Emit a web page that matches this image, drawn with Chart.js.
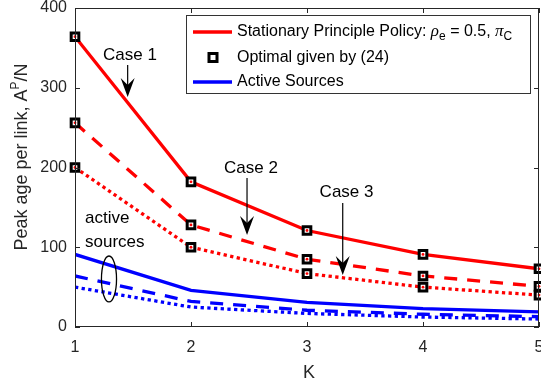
<!DOCTYPE html>
<html>
<head>
<meta charset="utf-8">
<script src="https://cdn.jsdelivr.net/npm/chart.js@4/dist/chart.umd.min.js"></script>
<style>
  html, body { margin: 0; padding: 0; background: #fff; }
  #wrap { position: relative; width: 541px; height: 387px; }
</style>
</head>
<body>
<div id="wrap"><canvas id="c" width="541" height="387"></canvas></div>
<script>
// Number of links K
const K = [1, 2, 3, 4, 5];

// Stationary principle policy, peak age per link (cases 1..3)
const policyCase1 = [364, 182, 121, 91, 73];
const policyCase2 = [256, 128, 85, 64, 51];
const policyCase3 = [200, 100, 67, 50, 40];

// Optimal values given by (24)
const optimalCase1 = [364, 182, 121, 91, 73];
const optimalCase2 = [256, 128, 85, 64, 51];
const optimalCase3 = [200, 100, 67, 50, 40];

// Active sources (cases 1..3)
const activeCase1 = [91, 46, 31, 23, 19];
const activeCase2 = [64, 32, 21, 16, 13];
const activeCase3 = [50, 25, 17, 12.5, 10];

// Axis tick labels
const xTickLabels = ['1', '2', '3', '4', '5'];
const yTickLabels = ['0', '100', '200', '300', '400'];

const RED = '#ff0000';
const BLUE = '#0000ff';
const AXIS = '#262626';
const SANS = '"Liberation Sans", Arial, Helvetica, sans-serif';
const SERIF = '"Liberation Serif", "DejaVu Serif", serif';

const pts = arr => K.map((k, i) => ({ x: k, y: arr[i] }));

const DASH = [13, 10];
const DOT = [3.3, 3.4];

function lineSet(label, arr, color, dash) {
  return {
    label, data: pts(arr), borderColor: color, backgroundColor: color,
    borderWidth: 3.3, borderDash: dash, borderCapStyle: 'butt',
    pointRadius: 0, tension: 0, order: 3
  };
}
function markerSet(label, arr) {
  return {
    label, data: pts(arr), showLine: false, pointStyle: 'rect',
    pointRadius: 5.4, pointBorderWidth: 3, pointBorderColor: '#000',
    pointBackgroundColor: '#fff', clip: false, order: 1
  };
}
function dotSet(arr) {
  return {
    label: '', data: pts(arr), showLine: false, pointStyle: 'circle',
    pointRadius: 1.4, pointBorderWidth: 0, pointBackgroundColor: RED,
    clip: false, order: 0
  };
}

// Annotations in data coordinates
const caseNotes = [
  { text: 'Case 1', tx: 1.474, ty: 341, ax: 1.454, ay0: 328.5, ay1: 288.4 },
  { text: 'Case 2', tx: 2.517, ty: 199.4, ax: 2.483, ay0: 186.8, ay1: 115.4 },
  { text: 'Case 3', tx: 3.341, ty: 168.7, ax: 3.308, ay0: 155.5, ay1: 65.2 }
];
const activeNote = { lines: ['active', 'sources'], x: 1.086, y: [136.7, 106.6] };
const activeRing = { cx: 1.293, cy: 60.2, rx: 0.065, ry: 28.8 };

function drawRich(ctx, parts, x, y, align) {
  let w = 0;
  parts.forEach(p => { ctx.font = p.font; w += ctx.measureText(p.t).width; });
  let cx = align === 'center' ? x - w / 2 : x;
  ctx.textAlign = 'left';
  parts.forEach(p => {
    ctx.font = p.font;
    ctx.fillText(p.t, cx, y + (p.dy || 0));
    cx += ctx.measureText(p.t).width;
  });
}

const decor = {
  id: 'decor',
  afterDatasetsDraw(chart) {
    const ctx = chart.ctx, xs = chart.scales.x, ys = chart.scales.y;
    ctx.save();
    ctx.fillStyle = '#000';
    ctx.strokeStyle = '#000';
    // case labels with arrows
    caseNotes.forEach(n => {
      ctx.font = '17px ' + SANS;
      ctx.textAlign = 'center';
      ctx.textBaseline = 'middle';
      ctx.fillText(n.text, xs.getPixelForValue(n.tx), ys.getPixelForValue(n.ty));
      const ax = xs.getPixelForValue(n.ax);
      const y0 = ys.getPixelForValue(n.ay0), y1 = ys.getPixelForValue(n.ay1);
      ctx.lineWidth = 1.2;
      ctx.beginPath(); ctx.moveTo(ax, y0); ctx.lineTo(ax, y1 - 8); ctx.stroke();
      ctx.beginPath();
      ctx.moveTo(ax, y1);
      ctx.lineTo(ax - 7, y1 - 19);
      ctx.lineTo(ax, y1 - 12);
      ctx.lineTo(ax + 7, y1 - 19);
      ctx.closePath(); ctx.fill();
    });
    // active sources label and ring
    ctx.font = '17px ' + SANS;
    ctx.textAlign = 'left';
    ctx.textBaseline = 'middle';
    activeNote.lines.forEach((t, i) => {
      ctx.fillText(t, xs.getPixelForValue(activeNote.x), ys.getPixelForValue(activeNote.y[i]));
    });
    const cx = xs.getPixelForValue(activeRing.cx), cy = ys.getPixelForValue(activeRing.cy);
    const rx = xs.getPixelForValue(activeRing.cx + activeRing.rx) - cx;
    const ry = cy - ys.getPixelForValue(activeRing.cy + activeRing.ry);
    ctx.lineWidth = 1.3;
    ctx.beginPath(); ctx.ellipse(cx, cy, rx, ry, 0, 0, Math.PI * 2); ctx.stroke();
    ctx.restore();
  },
  afterDraw(chart) {
    const ctx = chart.ctx, a = chart.chartArea, xs = chart.scales.x, ys = chart.scales.y;
    ctx.save();
    // axes box with inward ticks
    ctx.strokeStyle = AXIS;
    ctx.lineWidth = 1;
    ctx.strokeRect(a.left + 0.5, a.top + 0.5, a.right - a.left - 1, a.bottom - a.top - 1);
    const tl = 5;
    ctx.beginPath();
    xs.ticks.forEach(t => {
      const x = Math.round(xs.getPixelForValue(t.value)) + 0.5;
      ctx.moveTo(x, a.bottom); ctx.lineTo(x, a.bottom - tl);
      ctx.moveTo(x, a.top); ctx.lineTo(x, a.top + tl);
    });
    ys.ticks.forEach(t => {
      const y = Math.round(ys.getPixelForValue(t.value)) + 0.5;
      ctx.moveTo(a.left, y); ctx.lineTo(a.left + tl, y);
      ctx.moveTo(a.right, y); ctx.lineTo(a.right - tl, y);
    });
    ctx.stroke();
    // tick labels
    ctx.fillStyle = AXIS;
    ctx.font = '16px ' + SANS;
    ctx.textBaseline = 'middle';
    ctx.textAlign = 'center';
    xs.ticks.forEach((t, i) => ctx.fillText(xTickLabels[i], xs.getPixelForValue(t.value), a.bottom + 21));
    ctx.textAlign = 'right';
    ys.ticks.forEach((t, i) => ctx.fillText(yTickLabels[i], a.left - 8, ys.getPixelForValue(t.value)));
    // axis titles
    ctx.font = '18px ' + SANS;
    ctx.textAlign = 'center';
    ctx.fillText('K', (a.left + a.right) / 2 + 2, a.bottom + 46);
    ctx.save();
    ctx.translate(27, 157);
    ctx.rotate(-Math.PI / 2);
    ctx.textBaseline = 'alphabetic';
    drawRich(ctx, [
      { t: 'Peak age per link, A', font: '18px ' + SANS },
      { t: 'P', font: '12px ' + SANS, dy: -8 },
      { t: '/N', font: '18px ' + SANS }
    ], 0, 0, 'center');
    ctx.restore();

    // legend
    const L = { x: 186, y: 15, w: 344, h: 78 };
    ctx.fillStyle = '#fff';
    ctx.fillRect(L.x, L.y, L.w, L.h);
    ctx.strokeStyle = '#333';
    ctx.lineWidth = 1;
    ctx.strokeRect(L.x + 0.5, L.y + 0.5, L.w, L.h);
    const rows = [32, 57.5, 82];
    ctx.lineWidth = 3.3;
    ctx.strokeStyle = RED;
    ctx.beginPath(); ctx.moveTo(193, rows[0]); ctx.lineTo(232, rows[0]); ctx.stroke();
    ctx.strokeStyle = BLUE;
    ctx.beginPath(); ctx.moveTo(193, rows[2]); ctx.lineTo(232, rows[2]); ctx.stroke();
    ctx.fillStyle = '#fff';
    ctx.strokeStyle = '#000';
    ctx.lineWidth = 3;
    ctx.fillRect(209, rows[1] - 4, 8, 8);
    ctx.strokeRect(209, rows[1] - 4, 8, 8);
    ctx.fillStyle = '#000';
    ctx.textBaseline = 'middle';
    drawRich(ctx, [
      { t: 'Stationary Principle Policy: ', font: '16px ' + SANS },
      { t: 'ρ', font: 'italic 17px ' + SERIF },
      { t: 'e', font: '12px ' + SANS, dy: 5 },
      { t: ' = 0.5, ', font: '16px ' + SANS },
      { t: 'π', font: 'italic 17px ' + SERIF },
      { t: 'C', font: '12px ' + SANS, dy: 5 }
    ], 237, rows[0], 'left');
    ctx.font = '16px ' + SANS;
    ctx.textAlign = 'left';
    ctx.fillText('Optimal given by (24)', 237, rows[1]);
    ctx.fillText('Active Sources', 237, rows[2]);
    ctx.restore();
  }
};

new Chart(document.getElementById('c'), {
  type: 'line',
  data: {
    datasets: [
      lineSet('Stationary Principle Policy, case 1', policyCase1, RED, []),
      lineSet('Stationary Principle Policy, case 2', policyCase2, RED, DASH),
      lineSet('Stationary Principle Policy, case 3', policyCase3, RED, DOT),
      lineSet('Active Sources, case 1', activeCase1, BLUE, []),
      lineSet('Active Sources, case 2', activeCase2, BLUE, DASH),
      lineSet('Active Sources, case 3', activeCase3, BLUE, DOT),
      markerSet('Optimal given by (24), case 1', optimalCase1),
      markerSet('Optimal given by (24), case 2', optimalCase2),
      markerSet('Optimal given by (24), case 3', optimalCase3),
      dotSet(optimalCase1),
      dotSet(optimalCase2),
      dotSet(optimalCase3)
    ]
  },
  options: {
    responsive: false,
    animation: false,
    events: [],
    layout: { autoPadding: false, padding: { left: 75, top: 8, right: 2, bottom: 60 } },
    plugins: { legend: { display: false }, tooltip: { enabled: false } },
    scales: {
      x: { type: 'linear', min: 1, max: 5, display: false, ticks: { stepSize: 1 } },
      y: { type: 'linear', min: 0, max: 400, display: false, ticks: { stepSize: 100 } }
    }
  },
  plugins: [decor]
});
</script>
</body>
</html>
